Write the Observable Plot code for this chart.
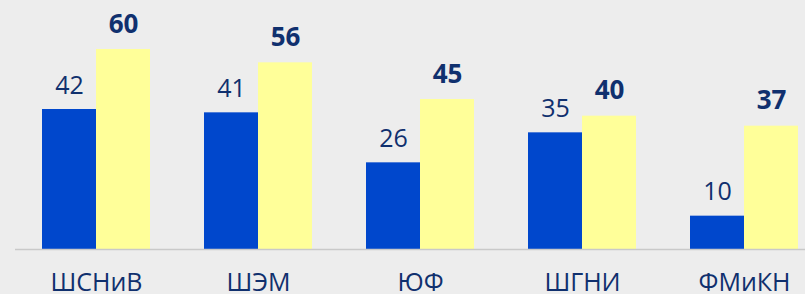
<!DOCTYPE html>
<html>
<head>
<meta charset="utf-8">
<script src="https://cdn.jsdelivr.net/npm/d3@7"></script>
<script src="https://cdn.jsdelivr.net/npm/@observablehq/plot@0.6"></script>
<style>
  html, body { margin: 0; padding: 0; background: #ededed; overflow: hidden; }
  #chart svg { display: block; max-width: none; }
</style>
</head>
<body>
<div id="chart"></div>
<script>
const categories = ["ШСНиВ", "ШЭМ", "ЮФ", "ШГНИ", "ФМиКН"];
const series = ["a", "b"];
const valuesA = [42, 41, 26, 35, 10];
const valuesB = [60, 56, 45, 40, 37];

const data = [];
categories.forEach((c, i) => {
  data.push({cat: c, s: series[0], v: valuesA[i]});
  data.push({cat: c, s: series[1], v: valuesB[i]});
});

const textColor = "#10306e";

const chart = Plot.plot({
  width: 805,
  height: 294,
  marginTop: 49,
  marginBottom: 45,
  marginLeft: 0,
  marginRight: 0,
  style: {background: "#ededed", fontFamily: "'Open Sans', sans-serif", overflow: "visible"},
  fx: {domain: categories, range: [14, 825], padding: 0, label: null, axis: null},
  x: {domain: series, paddingInner: 0, paddingOuter: 0.49, axis: null},
  y: {domain: [0, 60], axis: null},
  color: {domain: series, range: ["#0047cc", "#ffff99"]},
  marks: [
    Plot.barY(data, {fx: "cat", x: "s", y: "v", fill: "s"}),
    Plot.ruleY([0], {stroke: "#c9c9c9", strokeWidth: 1.5}),
    Plot.text(data.filter(d => d.s === "a"), {
      fx: "cat", x: "s", y: "v", text: d => String(d.v),
      lineAnchor: "bottom", dy: -16, fontSize: 25, fill: textColor
    }),
    Plot.text(data.filter(d => d.s === "b"), {
      fx: "cat", x: "s", y: "v", text: d => String(d.v),
      lineAnchor: "bottom", dy: -17, fontSize: 26, fontWeight: "bold", fill: textColor
    }),
    Plot.axisFx({anchor: "bottom", tickSize: 0, tickPadding: 24, fontSize: 25, fill: textColor, label: null})
  ]
});
document.getElementById("chart").appendChild(chart);
</script>
</body>
</html>
